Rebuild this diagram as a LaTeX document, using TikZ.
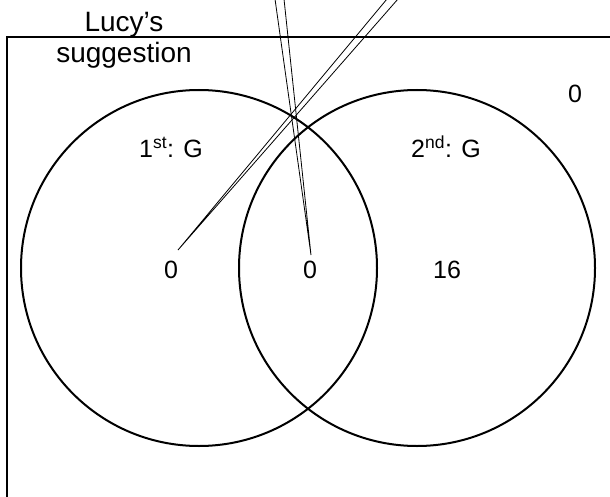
\documentclass[tikz,border=0pt]{standalone}
\usepackage{fontspec}
\setmainfont{Liberation Sans}
\usetikzlibrary{positioning,calc}

\begin{document}
\begin{tikzpicture}[x=1pt, y=-1pt,
  set/.style={draw, line width=2pt},
  frame/.style={draw, line width=2.3pt},
  lbl/.style={font=\fontsize{25}{28}\selectfont, inner sep=0pt},
  ttl/.style={font=\fontsize{28}{31}\selectfont, inner sep=0pt, anchor=base},
  tail/.style={draw, line width=0.8pt, line join=miter}
]
  \useasboundingbox (0,0) rectangle (610,497);
  % universe frame, cut at the right and bottom
  \draw[frame] (7,520) |- (630,37);
  \node[ttl] (lucy) at (124,32) {Lucy’s};
  \node[ttl] (sugg) at (124,63) {suggestion};
  % the two sets
  \draw[set] (199,268) circle[radius=178];
  \draw[set] (417,268) circle[radius=178];
  \node[lbl] (first) at (171,147) {1\textsuperscript{st}: G};
  \node[lbl] (second) at (446,147) {2\textsuperscript{nd}: G};
  % counts
  \node[lbl] (onlyA) at (171,270) {0};
  \node[lbl] (both) at (310,270) {0};
  \node[lbl] (onlyB) at (447,270) {16};
  \node[lbl] (none) at (575,94) {0};
  % callout tails
  \coordinate (tipA) at (178,250);
  \coordinate (tipB) at (311,255);
  \coordinate (topA1) at (387,-1);
  \coordinate (topA2) at (398,-1);
  \coordinate (topB1) at (275,-1);
  \coordinate (topB2) at (284,-1);
  \draw[tail] (topA1) -- (tipA) -- (topA2);
  \draw[tail] (topB1) -- (tipB) -- (topB2);
\end{tikzpicture}
\end{document}
